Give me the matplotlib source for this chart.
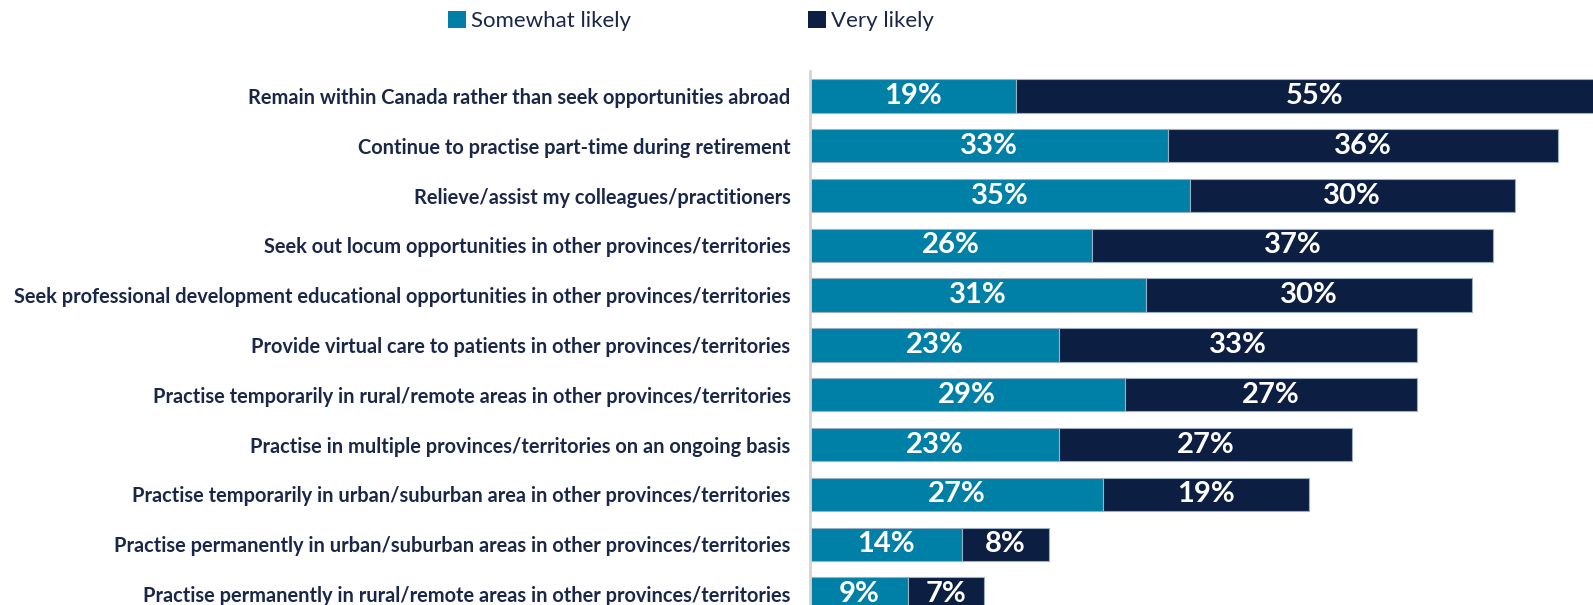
import matplotlib
matplotlib.use("Agg")
import matplotlib.pyplot as plt
from matplotlib.patches import Patch

categories = [
    "Remain within Canada rather than seek opportunities abroad",
    "Continue to practise part-time during retirement",
    "Relieve/assist my colleagues/practitioners",
    "Seek out locum opportunities in other provinces/territories",
    "Seek professional development educational opportunities in other provinces/territories",
    "Provide virtual care to patients in other provinces/territories",
    "Practise temporarily in rural/remote areas in other provinces/territories",
    "Practise in multiple provinces/territories on an ongoing basis",
    "Practise temporarily in urban/suburban area in other provinces/territories",
    "Practise permanently in urban/suburban areas in other provinces/territories",
    "Practise permanently in rural/remote areas in other provinces/territories",
]
somewhat_likely = [19, 33, 35, 26, 31, 23, 29, 23, 27, 14, 9]
very_likely = [55, 36, 30, 37, 30, 33, 27, 27, 19, 8, 7]
series_names = ["Somewhat likely", "Very likely"]

C_SOME = "#0080A6"
C_VERY = "#0C1E42"
C_TEXT = "#1B2748"
C_EDGE = "#9AAFC4"

W, H = 1593, 605
fig = plt.figure(figsize=(W / 100, H / 100), dpi=100)
ax_left, ax_top = 810, 71
ax = fig.add_axes([ax_left / W, 0, (W - ax_left) / W, (H - ax_top) / H])

ypos = list(range(len(categories)))
bar_h = 0.67
ax.barh(ypos, somewhat_likely, height=bar_h, color=C_SOME,
        edgecolor=C_EDGE, linewidth=0.8)
ax.barh(ypos, very_likely, left=somewhat_likely, height=bar_h, color=C_VERY,
        edgecolor=C_EDGE, linewidth=0.8)

for y, s, v in zip(ypos, somewhat_likely, very_likely):
    ax.text(s / 2, y, f"{s}%", ha="center", va="center", color="white",
            fontsize=21, fontweight="bold", family="Lato")
    ax.text(s + v / 2, y, f"{v}%", ha="center", va="center", color="white",
            fontsize=21, fontweight="bold", family="Lato")

ax.set_xlim(0, 72.2)
ax.set_ylim(10.22, -0.5)
ax.set_yticks(ypos)
ax.set_yticklabels(categories, fontsize=14.4, fontweight="bold",
                   color=C_TEXT, family="Lato")
ax.tick_params(axis="y", length=0, pad=14)
ax.set_xticks([])
for side in ["top", "right", "bottom"]:
    ax.spines[side].set_visible(False)
ax.spines["left"].set_color("#D4D4D4")
ax.spines["left"].set_linewidth(2)

# Legend: one entry per series, each anchored at its own x position
for color, name, x0 in zip([C_SOME, C_VERY], series_names, [448, 808]):
    fig.legend([Patch(facecolor=color)], [name], loc="center left",
               bbox_to_anchor=(x0 / W, 1 - 21 / H), frameon=False,
               borderpad=0, borderaxespad=0,
               handlelength=0.8, handleheight=0.8, handletextpad=0.25,
               prop={"family": "Lato", "size": 16}, labelcolor=C_TEXT)

fig.savefig("out.png", dpi=100)
